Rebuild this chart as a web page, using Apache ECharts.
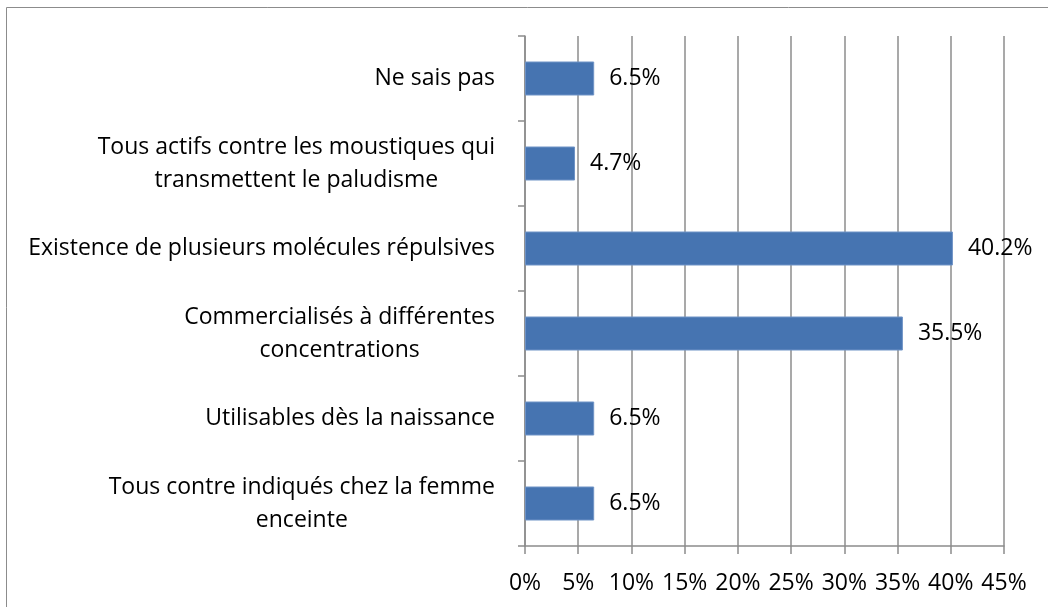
<!DOCTYPE html>
<html>
<head>
<meta charset="utf-8">
<script src="https://cdn.jsdelivr.net/npm/echarts@6/dist/echarts.min.js"></script>
<style>
  html, body { margin: 0; padding: 0; background: #fff; }
  #main { width: 1048px; height: 607px; }
</style>
</head>
<body>
<div id="main"></div>
<script>
  // categories, bottom to top (category axis starts at the bottom)
  var categories = [
    'Tous contre indiqués chez la femme\nenceinte',
    'Utilisables dès la naissance',
    'Commercialisés à différentes\nconcentrations',
    'Existence de plusieurs molécules répulsives',
    'Tous actifs contre les moustiques qui\ntransmettent le paludisme',
    'Ne sais pas'
  ];
  var values = [6.5, 6.5, 35.5, 40.2, 4.7, 6.5];
  var xMin = 0;
  var xMax = 45;
  var xStep = 5;

  var font = '"Open Sans", "Noto Sans", sans-serif';
  var fontSize = 23;
  var gridColor = '#8c8c8c';

  var chart = echarts.init(document.getElementById('main'));

  chart.setOption({
    animation: false,
    graphic: [{
      type: 'rect',
      shape: { x: 6.5, y: 7.5, width: 1100, height: 700 },
      style: { fill: 'none', stroke: '#8c8c8c', lineWidth: 1 },
      silent: true
    }],
    grid: {
      left: 525,
      right: 44,
      top: 36,
      bottom: 61
    },
    xAxis: {
      type: 'value',
      min: xMin,
      max: xMax,
      interval: xStep,
      axisLine: { show: true, lineStyle: { color: gridColor, width: 1.5 } },
      axisTick: { show: true, length: 8, lineStyle: { color: gridColor, width: 1.5 } },
      splitLine: { show: true, lineStyle: { color: gridColor, width: 1.5 } },
      axisLabel: {
        formatter: '{value}%',
        color: '#000',
        fontFamily: font,
        fontSize: fontSize,
        margin: 26
      }
    },
    yAxis: {
      type: 'category',
      data: categories,
      axisLine: { show: true, lineStyle: { color: gridColor, width: 1.5 } },
      axisTick: { show: true, length: 7, lineStyle: { color: gridColor, width: 1.5 } },
      axisLabel: {
        color: '#000',
        fontFamily: font,
        fontSize: fontSize,
        margin: 30,
        lineHeight: 33,
        formatter: function (value) {
          // centre each line of a wrapped label, block stays right aligned
          return value.split('\n').map(function (s) {
            return '{c|' + s + '}';
          }).join('\n');
        },
        rich: {
          c: {
            align: 'center',
            color: '#000',
            fontFamily: font,
            fontSize: fontSize,
            lineHeight: 33
          }
        }
      }
    },
    series: [{
      type: 'bar',
      data: values,
      barWidth: 34,
      itemStyle: {
        color: '#4674b1',
        borderColor: '#6f93c6',
        borderWidth: 1
      },
      label: {
        show: true,
        position: 'right',
        distance: 15,
        formatter: function (p) {
          return p.value.toFixed(1) + '%';
        },
        color: '#000',
        fontFamily: font,
        fontSize: fontSize
      }
    }]
  });
</script>
</body>
</html>
